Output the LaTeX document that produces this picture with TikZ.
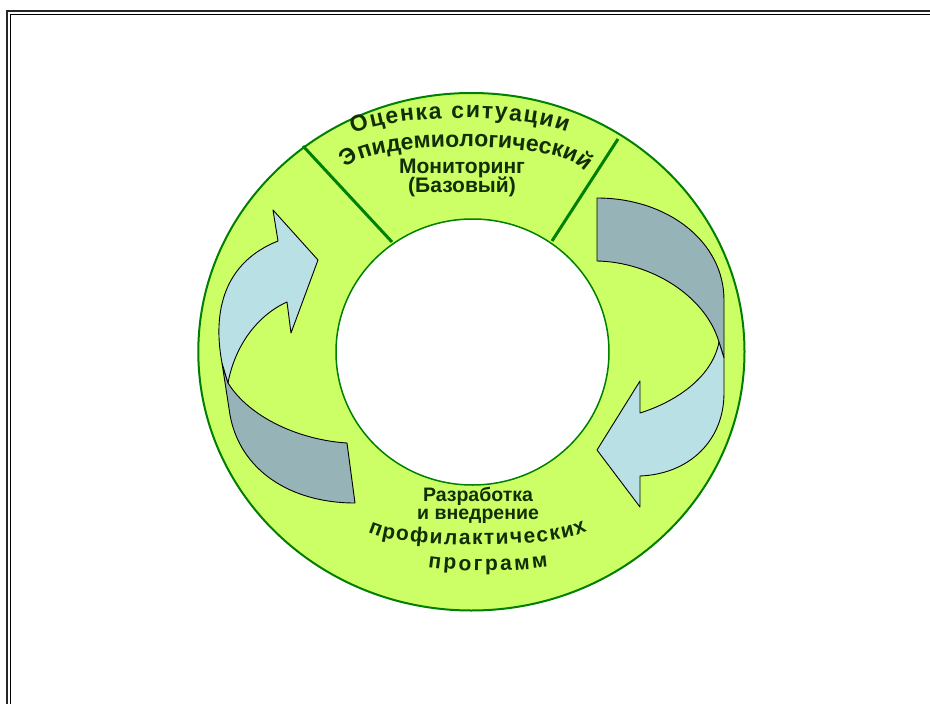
\documentclass[tikz,border=0pt]{standalone}
\usepackage{fontspec}
\setmainfont{Liberation Sans}
\usetikzlibrary{decorations.text}
\definecolor{ringfill}{RGB}{204,255,102}
\definecolor{ringline}{RGB}{0,128,0}
\definecolor{lightarrow}{RGB}{185,224,228}
\definecolor{darkarrow}{RGB}{150,179,183}
\definecolor{txt}{RGB}{18,46,5}
\newcommand{\tf}[1]{\bfseries\fontsize{#1}{#1}\selectfont}
\begin{document}
\begin{tikzpicture}[x=1pt,y=-1pt,
  arrowlight/.style={fill=lightarrow,draw=black,line width=0.9pt,line join=round},
  arrowdark/.style={fill=darkarrow,draw=black,line width=0.9pt,line join=round},
  divider/.style={draw=ringline,line width=3pt},
  label/.style={text=txt,font=\tf{21},inner sep=0pt,anchor=base},
  arctext/.style={decorate,decoration={text along path,text align={fit to path},text color=txt,text={#1}}}]
\useasboundingbox (0,0) rectangle (930,704);
\fill[white] (0,0) rectangle (930,704);
% frame
\draw[line width=1.8pt,black!85] (7.3,720) |- (940,11);
\draw[line width=1pt,black] (10.7,720) |- (940,14.2);
% ring
\filldraw[fill=ringfill,draw=ringline,line width=2pt] (471.4,351.75) ellipse [x radius=273.1,y radius=258.75];
\filldraw[fill=white,draw=ringline,line width=1.5pt] (472.5,352) ellipse [x radius=136.5,y radius=133];
% dividers
\coordinate (d1a) at (303,146);
\coordinate (d1b) at (392,242);
\coordinate (d2a) at (618,139);
\coordinate (d2b) at (552,241);
\draw[divider] (d1a) -- (d1b);
\draw[divider] (d2a) -- (d2b);
% left arrow
\draw[arrowdark] (222,363) -- (230,415) .. controls (240,470) and (290,503) .. (355,503)
  -- (347,443) .. controls (300,440) and (250,418) .. (228,383) -- cycle;
\draw[arrowlight] (278,241) -- (273,210) -- (318,260) -- (291,333) -- (287,302)
  .. controls (258,315) and (235,345) .. (228,383) -- (222,363)
  .. controls (212,310) and (225,262) .. (278,241) -- cycle;
% right arrow
\draw[arrowdark] (597,198) .. controls (668,198) and (724,242) .. (724,300) -- (724,358) -- (719,342)
  .. controls (705,295) and (650,262) .. (597,261) -- cycle;
\draw[arrowlight] (719,342) -- (724,358) -- (724,393) .. controls (724,440) and (690,474) .. (640,476)
  -- (640,507) -- (597,450) -- (640,381) -- (640,413)
  .. controls (675,402) and (712,378) .. (719,342) -- cycle;
% texts
\path[arctext={|\tf{23}|Оценка ситуации}] (353,134) .. controls (400,113) and (520,113) .. (567,132);
\path[arctext={|\tf{23}|Эпидемиологический}] (347,169) .. controls (362,139) and (568,139) .. (585,172);
\node[label] (mon) at (462,173) {Мониторинг};
\node[label] (baz) at (462,192) {(Базовый)};
\node[label,font=\tf{19.5}] (raz) at (478,501) {Разработка};
\node[label,font=\tf{19.5}] (vne) at (478,519.5) {и внедрение};
\path[arctext={|\tf{21}|профилактических}] (368,532) .. controls (395,549) and (560,549) .. (587,531);
\path[arctext={|\tf{21}|программ}] (428,567) .. controls (460,572) and (515,572) .. (548,567);
\end{tikzpicture}
\end{document}
